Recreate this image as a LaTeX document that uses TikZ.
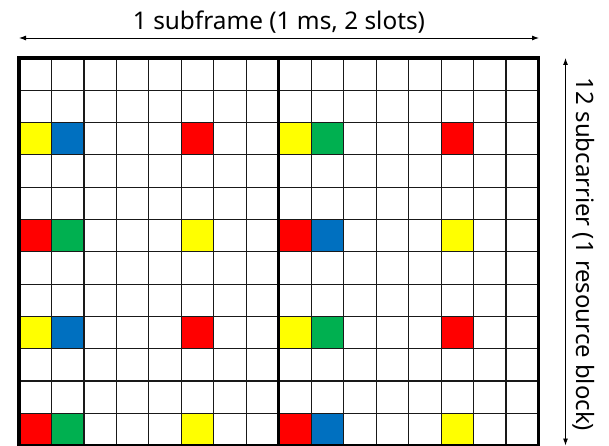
\documentclass[tikz,border=0pt]{standalone}
\usepackage{fontspec}
\setmainfont{Noto Sans}
\usetikzlibrary{arrows.meta}
\definecolor{cyel}{HTML}{FFFF00}
\definecolor{cblu}{HTML}{0070C0}
\definecolor{cred}{HTML}{FF0000}
\definecolor{cgrn}{HTML}{00B050}
\begin{document}
\begin{tikzpicture}[x=1pt,y=-1pt,
  gridline/.style={line width=1.2pt,black!90},
  frameline/.style={line width=3.3pt,black},
  dimarrow/.style={line width=0.9pt,{Latex[length=7pt,width=5pt]}-{Latex[length=7pt,width=5pt]}},
  lbl/.style={inner sep=0pt,font=\fontsize{20}{24}\selectfont}]
\useasboundingbox (0,0) rectangle (609,446);
\def\gx{19}\def\gy{58}\def\cw{32.47}\def\ch{32.3}
% coloured resource elements
\foreach \c/\r/\col in {1/3/cyel,2/3/cblu,6/3/cred,9/3/cyel,10/3/cgrn,14/3/cred,
                        1/6/cred,2/6/cgrn,6/6/cyel,9/6/cred,10/6/cblu,14/6/cyel,
                        1/9/cyel,2/9/cblu,6/9/cred,9/9/cyel,10/9/cgrn,14/9/cred,
                        1/12/cred,2/12/cgrn,6/12/cyel,9/12/cred,10/12/cblu,14/12/cyel}
  \fill[\col] ({\gx+(\c-1)*\cw},{\gy+(\r-1)*\ch}) rectangle ++(\cw,\ch);
% grid
\foreach \i in {1,...,15}
  \draw[gridline] ({\gx+\i*\cw},\gy) -- ++(0,{12*\ch});
\foreach \j in {1,...,11}
  \draw[gridline] (\gx,{\gy+\j*\ch}) -- ++({16*\cw},0);
\draw[frameline] (\gx,\gy) rectangle ({\gx+16*\cw},{\gy+12*\ch});
\draw[frameline] ({\gx+8*\cw},\gy) -- ++(0,{12*\ch});
% dimension arrows
\coordinate (hl) at (19,38);
\coordinate (hr) at (539,38);
\draw[dimarrow] (hl) -- (hr);
\node[lbl] (htxt) at (279,22) {\resizebox{292pt}{!}{1 subframe (1 ms, 2 slots)}};
\coordinate (vt) at (565.5,58);
\coordinate (vb) at (565.5,445.5);
\draw[dimarrow] (vt) -- (vb);
\node[lbl,rotate=-90] (vtxt) at (583.5,254.5) {\resizebox{353pt}{!}{12 subcarrier (1 resource block)}};
\end{tikzpicture}
\end{document}
